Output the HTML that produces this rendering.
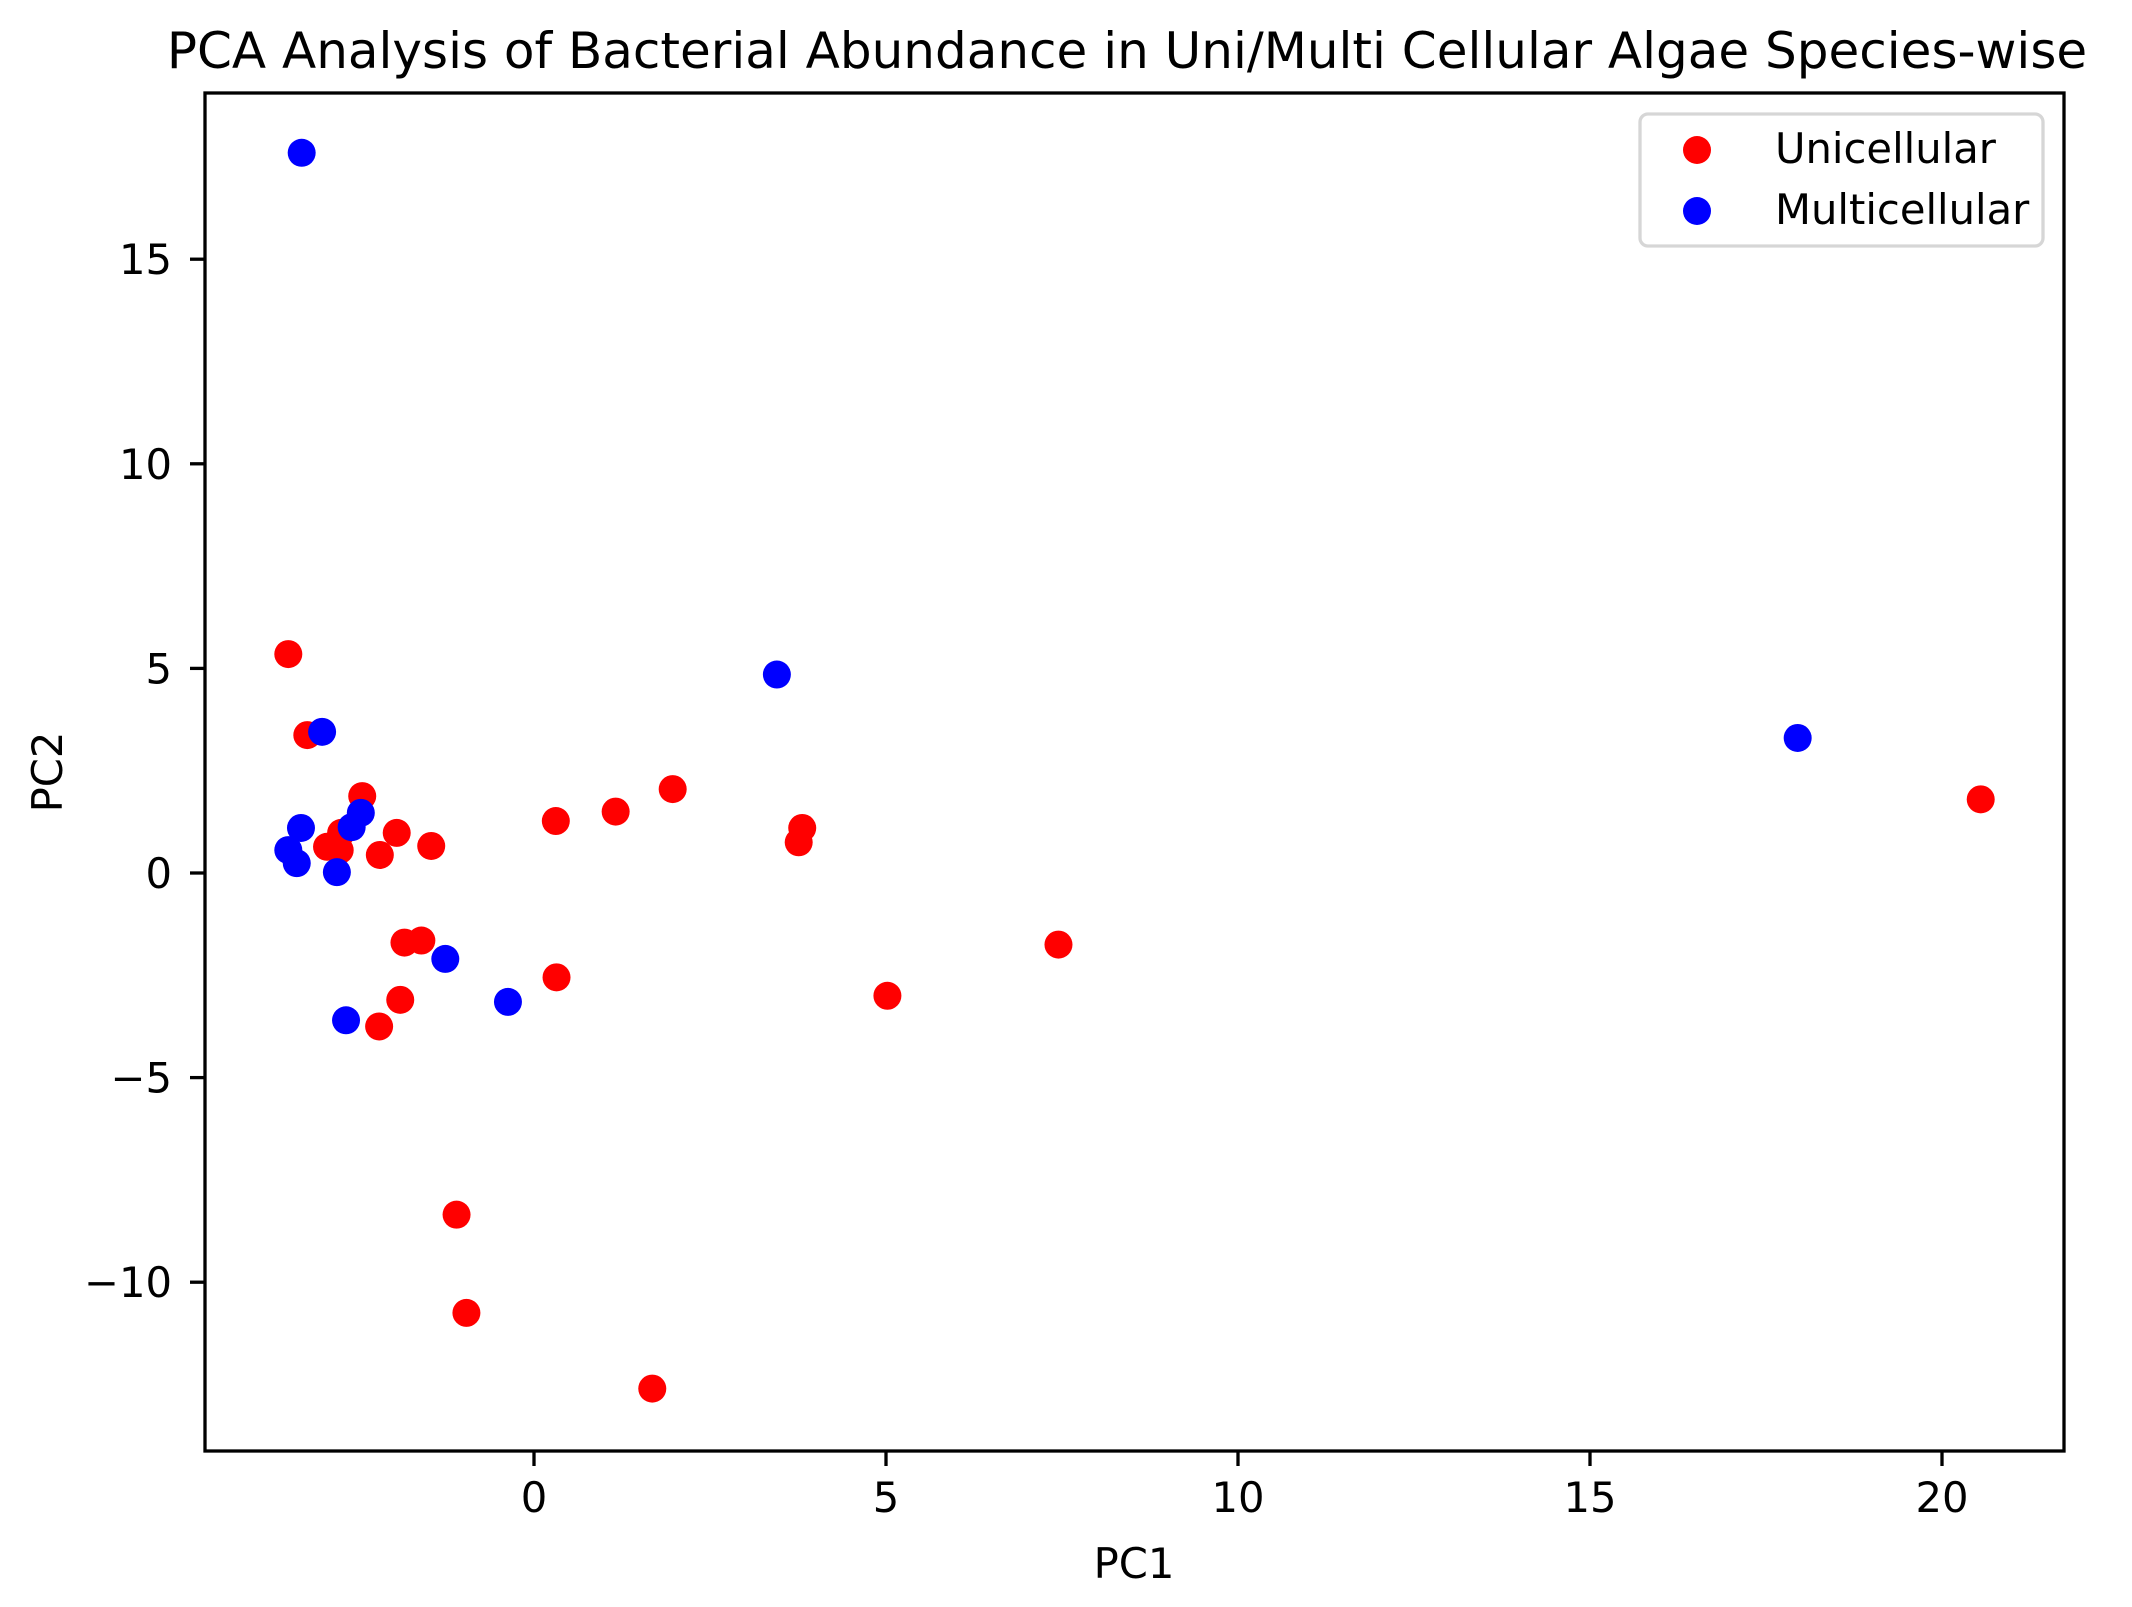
<!DOCTYPE html>
<html><head><meta charset="utf-8"><style>
body{margin:0;background:#fff}
svg{display:block;font-family:"DejaVu Sans","Liberation Sans",sans-serif}
</style></head><body>
<svg id="chart" width="2132" height="1607" viewBox="0 0 2132 1607">
<rect width="2132" height="1607" fill="#fff"/>
<text x="1127" y="68" font-size="50" text-anchor="middle">PCA Analysis of Bacterial Abundance in Uni/Multi Cellular Algae Species-wise</text>
<g id="marks"></g>
<rect x="205" y="93" width="1859" height="1358" fill="none" stroke="#000" stroke-width="3.3"/>
<g id="xticks"></g><g id="yticks"></g>
<text x="1134" y="1578" font-size="41.7" text-anchor="middle">PC1</text>
<text x="62" y="772" font-size="41.7" text-anchor="middle" transform="rotate(-90 62 772)">PC2</text>
<g>
<rect x="1640" y="114" width="403" height="132" rx="8" fill="#fff" stroke="#d6d6d6" stroke-width="3.3"/>
<circle cx="1697" cy="150" r="14" fill="red"/>
<text x="1775" y="163" font-size="41.7">Unicellular</text>
<circle cx="1697" cy="211" r="14" fill="blue"/>
<text x="1775" y="224" font-size="41.7">Multicellular</text>
</g>
</svg>
<script>
const uniX=[-3.49,-3.22,-2.44,-2.94,-2.74,-2.76,-2.19,-1.95,-1.46,-1.84,-1.6,-1.9,-2.2,-1.1,-0.96,0.31,1.16,1.97,3.81,3.76,0.32,1.68,5.02,7.45,20.55];
const uniY=[5.35,3.37,1.88,0.64,0.98,0.56,0.44,0.98,0.66,-1.7,-1.65,-3.1,-3.75,-8.35,-10.75,1.27,1.5,2.05,1.1,0.75,-2.55,-12.6,-3.0,-1.75,1.8];
const mulX=[-3.3,-3.01,-3.31,-3.49,-3.37,-2.8,-2.59,-2.46,-1.26,-0.37,-2.67,3.45,17.95];
const mulY=[17.6,3.45,1.1,0.56,0.24,0.02,1.12,1.47,-2.1,-3.15,-3.6,4.85,3.3];
const xTickVals=[0,5,10,15,20];
const yTickVals=[-10,-5,0,5,10,15];
const xs=v=>534+v*70.4;
const ys=v=>873-v*40.92;
const NS="http://www.w3.org/2000/svg";
const marks=document.getElementById('marks');
function pts(X,Y,color,nm){
  X.forEach((x,i)=>{
    const c=document.createElementNS(NS,'circle');
    c.setAttribute('cx',xs(x));c.setAttribute('cy',ys(Y[i]));c.setAttribute('r',14);c.setAttribute('fill',color);
    
    
    marks.appendChild(c);
  });
}
pts(uniX,uniY,'red','unicellular-point');
pts(mulX,mulY,'blue','multicellular-point');
const xt=document.getElementById('xticks');
xTickVals.forEach(v=>{
  const x=xs(v);
  const l=document.createElementNS(NS,'line');
  l.setAttribute('x1',x);l.setAttribute('x2',x);l.setAttribute('y1',1451);l.setAttribute('y2',1466);l.setAttribute('stroke','#000');l.setAttribute('stroke-width',3.3);
  
  
  xt.appendChild(l);
  const t=document.createElementNS(NS,'text');
  t.setAttribute('x',x);t.setAttribute('y',1512);t.setAttribute('font-size',41.7);t.setAttribute('text-anchor','middle');
  t.textContent=String(v);
  
  
  xt.appendChild(t);
});
const yt=document.getElementById('yticks');
yTickVals.forEach(v=>{
  const y=ys(v);
  const l=document.createElementNS(NS,'line');
  l.setAttribute('x1',190);l.setAttribute('x2',205);l.setAttribute('y1',y);l.setAttribute('y2',y);l.setAttribute('stroke','#000');l.setAttribute('stroke-width',3.3);
  
  
  yt.appendChild(l);
  const t=document.createElementNS(NS,'text');
  t.setAttribute('x',172);t.setAttribute('y',y+15);t.setAttribute('font-size',41.7);t.setAttribute('text-anchor','end');
  t.textContent=v<0?'\u2212'+Math.abs(v):String(v);
  
  
  yt.appendChild(t);
});
</script>
</body></html>
